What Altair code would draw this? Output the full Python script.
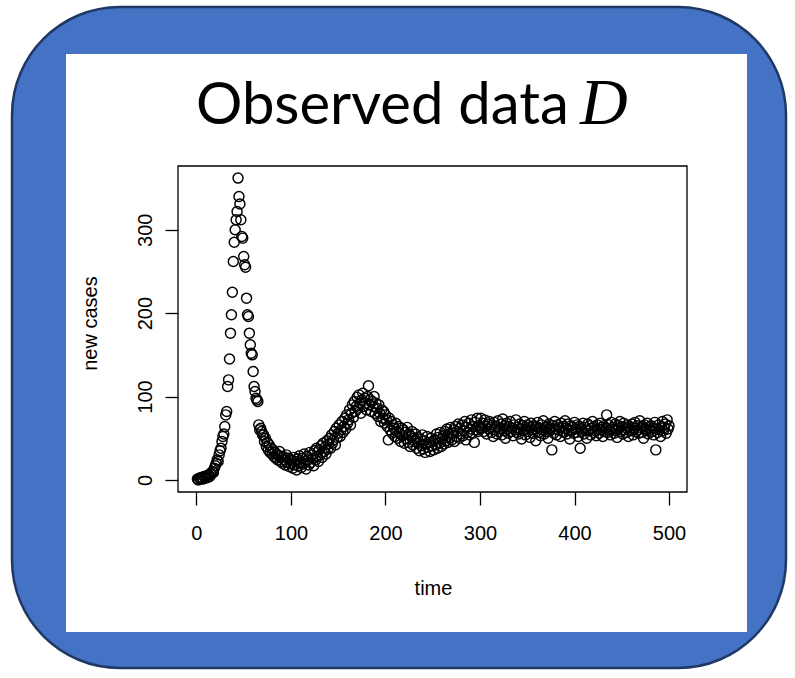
import altair as alt
import pandas as pd

# ---- data ----
time = list(range(1, 501))
new_cases = [
    1, 0, 2, 1, 3, 2, 1, 4, 2, 3,
    5, 3, 6, 4, 8, 7, 10, 9, 14, 17,
    20, 24, 22, 30, 35, 38, 46, 52, 55, 64,
    78, 82, 112, 120, 145, 176, 198, 225, 262, 285,
    300, 312, 322, 362, 340, 331, 312, 292, 290, 268,
    258, 255, 218, 198, 196, 176, 162, 152, 150, 130,
    112, 106, 98, 96, 94, 66, 60, 62, 58, 54,
    54, 46, 50, 40, 45, 36, 42, 33, 38, 31,
    36, 28, 33, 26, 31, 24, 29, 34, 22, 27,
    20, 28, 24, 18, 30, 21, 26, 16, 25, 19,
    23, 14, 27, 18, 22, 12, 25, 17, 29, 20,
    15, 26, 19, 31, 22, 13, 28, 24, 18, 33,
    21, 30, 26, 17, 35, 24, 38, 28, 22, 36,
    30, 41, 27, 44, 34, 39, 31, 47, 37, 43,
    50, 38, 54, 44, 48, 58, 42, 62, 51, 56,
    66, 52, 60, 70, 57, 64, 74, 61, 78, 68,
    72, 84, 66, 80, 90, 75, 94, 82, 88, 99,
    86, 102, 92, 80, 96, 104, 88, 98, 92, 84,
    100, 113, 90, 96, 82, 94, 88, 100, 80, 92,
    86, 76, 90, 80, 70, 84, 74, 82, 68, 78,
    72, 64, 48, 74, 60, 70, 56, 66, 62, 52,
    68, 58, 50, 64, 56, 46, 62, 53, 60, 44,
    57, 49, 63, 45, 55, 40, 52, 58, 42, 50,
    46, 55, 38, 51, 44, 35, 49, 41, 54, 37,
    47, 33, 43, 52, 39, 45, 34, 50, 41, 46,
    36, 48, 42, 55, 38, 51, 44, 57, 40, 49,
    53, 43, 58, 47, 61, 45, 55, 50, 63, 48,
    56, 60, 46, 64, 52, 58, 67, 50, 62, 55,
    66, 53, 59, 70, 48, 63, 57, 68, 54, 61,
    72, 56, 64, 45, 69, 60, 74, 58, 65, 62,
    74, 62, 68, 58, 72, 64, 55, 67, 61, 70,
    63, 57, 66, 52, 69, 60, 64, 55, 71, 58,
    62, 67, 54, 73, 59, 65, 50, 68, 61, 56,
    64, 70, 58, 62, 53, 66, 60, 72, 57, 63,
    55, 67, 61, 49, 65, 59, 70, 54, 62, 66,
    58, 63, 51, 68, 60, 56, 65, 61, 47, 64,
    69, 57, 62, 53, 66, 60, 71, 55, 63, 58,
    64, 50, 67, 59, 62, 36, 65, 56, 70, 61,
    54, 66, 60, 63, 52, 68, 58, 64, 57, 71,
    62, 55, 67, 60, 49, 65, 59, 63, 56, 69,
    61, 57, 66, 52, 64, 38, 62, 58, 68, 55,
    63, 60, 50, 67, 59, 65, 54, 62, 70, 57,
    64, 59, 53, 66, 61, 56, 68, 60, 63, 52,
    65, 58, 62, 78, 57, 66, 60, 54, 69, 61,
    63, 56, 67, 59, 51, 65, 62, 70, 58, 64,
    55, 68, 60, 63, 57, 66, 52, 64, 61, 59,
    67, 54, 62, 69, 58, 65, 60, 56, 71, 63,
    57, 64, 50, 66, 61, 59, 68, 55, 63, 60,
    65, 58, 62, 54, 69, 36, 61, 57, 66, 60,
    52, 64, 70, 59, 63, 67, 56, 72, 61, 65,
]
x_ticks = [0, 100, 200, 300, 400, 500]
y_ticks = [0, 100, 200, 300]
title_main = "Observed data"
title_var = "D"
x_title = "time"
y_title = "new cases"

W, H = 509, 326
PAD_L, PAD_T = 178, 166

df = pd.DataFrame({"time": time, "new_cases": new_cases})
one = pd.DataFrame({"k": [0]})

blue = alt.Chart(one).mark_rect(
    fill="#4472C4", stroke="#203864", strokeWidth=2.5, cornerRadius=108
).encode(x=alt.value(-166), x2=alt.value(608), y=alt.value(-159), y2=alt.value(502))

white = alt.Chart(one).mark_rect(fill="white").encode(
    x=alt.value(-112), x2=alt.value(569), y=alt.value(-112), y2=alt.value(466)
)

t_main = alt.Chart(one).mark_text(
    font="Lato", fontSize=58, align="left", baseline="alphabetic", color="black"
).encode(text=alt.value(title_main), x=alt.value(18), y=alt.value(-42))

t_var = alt.Chart(one).mark_text(
    font="Liberation Serif", fontStyle="italic", fontSize=66, align="left",
    baseline="alphabetic", color="black"
).encode(text=alt.value(title_var), x=alt.value(402), y=alt.value(-42))

axis_common = dict(
    domain=False, grid=False, ticks=True, tickSize=13, tickColor="black",
    tickWidth=1.3, labelFont="Liberation Sans", labelFontSize=20,
    labelColor="black", titleFont="Liberation Sans", titleFontSize=20,
    titleFontWeight="normal", titleColor="black", zindex=1,
)

pts = alt.Chart(df).mark_point(
    shape="circle", filled=False, color="black", size=100, strokeWidth=1.45, opacity=1
).encode(
    x=alt.X("time:Q",
            scale=alt.Scale(domain=[-19.5, 519], nice=False, zero=False),
            axis=alt.Axis(values=x_ticks, title=x_title, labelBaseline="middle",
                          labelPadding=28, labelFlush=False, titleBaseline="middle",
                          titleX=255, titleY=96, **axis_common)),
    y=alt.Y("new_cases:Q",
            scale=alt.Scale(domain=[-14.5, 376.5], nice=False, zero=False),
            axis=alt.Axis(values=y_ticks, title=y_title, labelAngle=-90,
                          labelAlign="center", labelBaseline="middle",
                          labelPadding=20, labelFlush=False, titleBaseline="middle",
                          titleAlign="center", titleAngle=-90,
                          titleX=-88, titleY=157, **axis_common)),
)

box = alt.Chart(one).mark_rect(
    fillOpacity=0, stroke="black", strokeWidth=1.3
).encode(x=alt.value(0), x2=alt.value(W), y=alt.value(0), y2=alt.value(H))

chart = alt.layer(blue, white, t_main, t_var, pts, box).properties(
    width=W, height=H,
    padding={"left": PAD_L, "top": PAD_T, "right": 795 - PAD_L - W, "bottom": 678 - PAD_T - H},
    autosize=alt.AutoSizeParams(type="none"),
    background="white",
).configure_view(strokeWidth=0)

chart.save("out.html", embed_options={"renderer": "svg", "actions": False})
